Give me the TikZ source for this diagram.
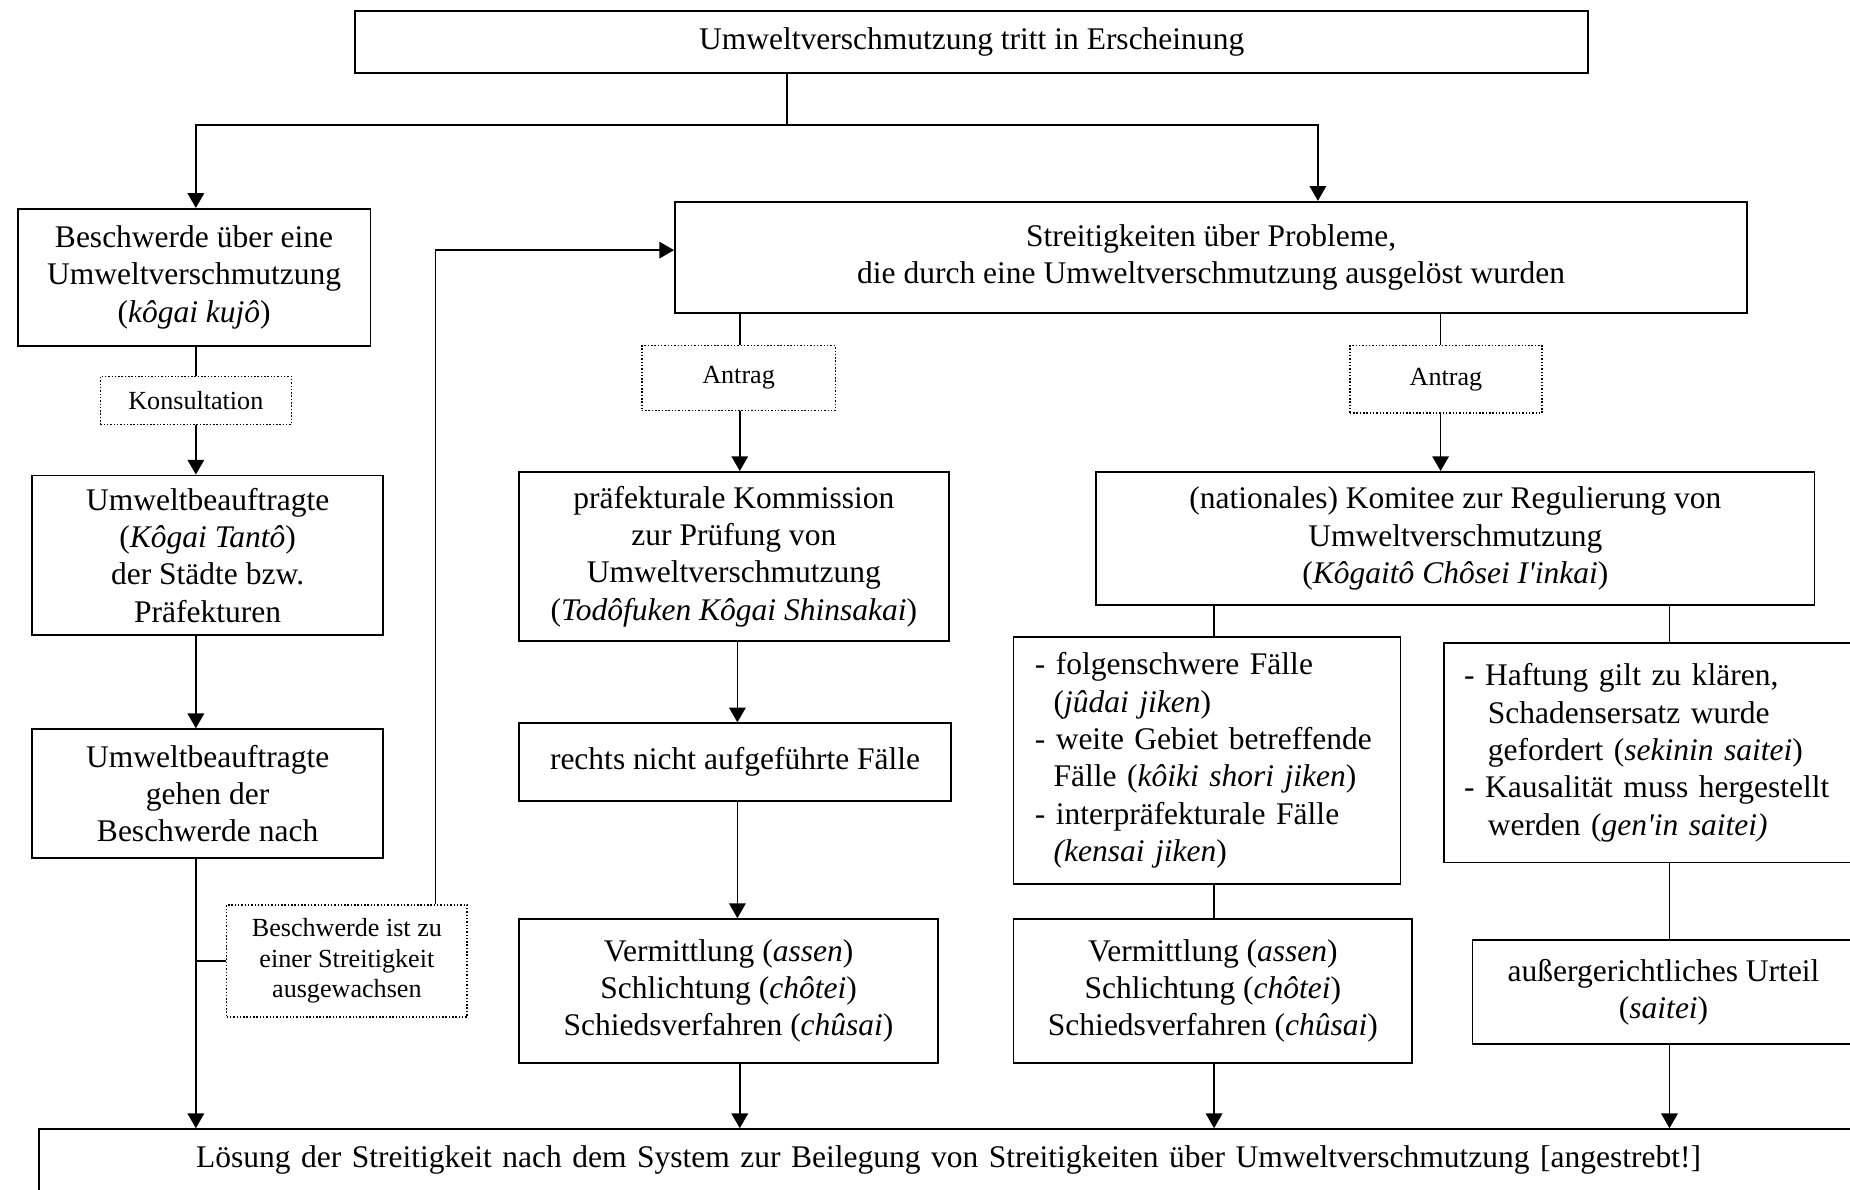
\documentclass[tikz,border=0pt]{standalone}
\usepackage{fontspec}
\setmainfont{Liberation Serif}
\usetikzlibrary{arrows.meta}

\tikzset{
	box/.style={draw, line width=.9pt, inner sep=0pt, align=center, font=\fontsize{15.2}{18}\selectfont},
	hinweis/.style={draw, line width=.7pt, dash pattern=on .7pt off .9pt, inner sep=0pt, align=center, font=\fontsize{12.6}{14.7}\selectfont},
	linie/.style={line width=.8pt},
	pfeil/.style={line width=.8pt, -{Triangle[length=.25cm, width=.28cm]}},
}

\begin{document}
\begin{tikzpicture}[x=.02cm, y=-.02cm]
	\useasboundingbox (0,0) rectangle (1568,1008);
	\clip (0,0) rectangle (1568,1008);

	% Spalten der Verbindungen
	\coordinate (spA) at (166,0);
	\coordinate (spB) at (627,0);
	\coordinate (spC) at (1029,0);
	\coordinate (spD) at (1221,0);
	\coordinate (spE) at (1415,0);

	\node (top) at (823.5,35.5) [box, minimum width=20.9cm, minimum height=1.06cm] {Umweltverschmutzung tritt in Erscheinung};

	\node (beschwerde) at (164.5,235) [box, minimum width=5.98cm, minimum height=2.32cm] {Beschwerde über eine\\Umweltverschmutzung\\(\textit{kôgai kujô})};
	\node (konsult) at (166,339.5) [hinweis, minimum width=3.24cm, minimum height=.82cm] {Konsultation};
	\node (beauftr) at (176,470.5) [box, minimum width=5.96cm, minimum height=2.7cm] {Umweltbeauftragte\\(\textit{Kôgai Tantô})\\der Städte bzw.\\Präfekturen};
	\node (nachgehen) at (176,672.5) [box, minimum width=5.96cm, minimum height=2.18cm] {Umweltbeauftragte\\gehen der\\Beschwerde nach};
	\node (ausgew) at (294,814.5) [hinweis, minimum width=4.08cm, minimum height=1.9cm] {Beschwerde ist zu\\einer Streitigkeit\\ausgewachsen};

	\node (streit) at (1026.5,218) [box, minimum width=18.18cm, minimum height=1.88cm] {Streitigkeiten über Probleme,\\die durch eine Umweltverschmutzung ausgelöst wurden};

	\node (antragL) at (626,320.5) [hinweis, minimum width=3.28cm, minimum height=1.1cm] {Antrag};
	\node (praef) at (622,471.5) [box, minimum width=7.28cm, minimum height=2.86cm] {präfekturale Kommission\\zur Prüfung von\\Umweltverschmutzung\\(\textit{Todôfuken Kôgai Shinsakai})};
	\node (rechts) at (623,646) [box, minimum width=7.32cm, minimum height=1.32cm] {rechts nicht aufgeführte Fälle};
	\node (vermL) at (617.5,840) [box, minimum width=7.1cm, minimum height=2.44cm] {Vermittlung (\textit{assen})\\Schlichtung (\textit{chôtei})\\Schiedsverfahren (\textit{chûsai})};

	\node (antragR) at (1225.5,321.5) [hinweis, minimum width=3.26cm, minimum height=1.14cm] {Antrag};
	\node (komitee) at (1233.5,456.5) [box, minimum width=12.18cm, minimum height=2.26cm] {(nationales) Komitee zur Regulierung von\\Umweltverschmutzung\\(\textit{Kôgaitô Chôsei I\textquotesingle inkai})};
	\node (folgen) at (1023,644.5) [box, align=left, inner xsep=.36cm, text width=5.84cm, minimum height=4.18cm] {- folgenschwere Fälle\\\hspace*{.6em}(\textit{jûdai jiken})\\- weite Gebiet betreffende\\\hspace*{.6em}Fälle (\textit{kôiki shori jiken})\\- interpräfekturale Fälle\\\hspace*{.6em}\textit{(kensai jiken})};
	\node (haftung) at (1398,638) [box, align=left, inner xsep=.34cm, text width=6.28cm, minimum height=3.72cm] {- Haftung gilt zu klären,\\\hspace*{.75em}Schadensersatz wurde\\\hspace*{.75em}gefordert (\textit{sekinin saitei})\\- Kausalität muss hergestellt\\\hspace*{.75em}werden (\textit{gen\textquotesingle in saitei)}};
	\node (vermR) at (1028,840) [box, minimum width=6.76cm, minimum height=2.44cm] {Vermittlung (\textit{assen})\\Schlichtung (\textit{chôtei})\\Schiedsverfahren (\textit{chûsai})};
	\node (urteil) at (1410,841) [box, minimum width=6.48cm, minimum height=1.76cm] {außergerichtliches Urteil\\(\textit{saitei})};

	\node (loesung) at (806.5,983) [box, align=left, inner xsep=2.66cm, text width=25.62cm, minimum height=1.04cm] {Lösung der Streitigkeit nach dem System zur Beilegung von Streitigkeiten über Umweltverschmutzung [angestrebt!]};

	% oben
	\coordinate (split) at (667,106);
	\coordinate (splitR) at (1117,106);
	\draw [linie] (split |- top.south) -- (split);
	\draw [pfeil] (split) -| (spA |- beschwerde.north);
	\draw [pfeil] (split) -- (splitR) -- (splitR |- streit.north);

	% links
	\draw [linie] (spA |- beschwerde.south) -- (spA |- konsult.north);
	\draw [pfeil] (spA |- konsult.south) -- (spA |- beauftr.north);
	\draw [pfeil] (spA |- beauftr.south) -- (spA |- nachgehen.north);
	\draw [pfeil] (spA |- nachgehen.south) -- (spA |- loesung.north);
	\draw [linie] (ausgew.west) -- (spA |- ausgew.west);
	\coordinate (knick) at (369,212);
	\draw [pfeil] (knick |- ausgew.north) -- (knick) -- (knick -| streit.west);

	% Mitte
	\draw [linie] (spB |- streit.south) -- (spB |- antragL.north);
	\draw [pfeil] (spB |- antragL.south) -- (spB |- praef.north);
	\draw [pfeil] (625,0 |- praef.south) -- (625,0 |- rechts.north);
	\draw [pfeil] (625,0 |- rechts.south) -- (625,0 |- vermL.north);
	\draw [pfeil] (spB |- vermL.south) -- (spB |- loesung.north);

	% rechts
	\draw [linie] (spD |- streit.south) -- (spD |- antragR.north);
	\draw [pfeil] (spD |- antragR.south) -- (spD |- komitee.north);
	\draw [linie] (spC |- komitee.south) -- (spC |- folgen.north);
	\draw [linie] (spC |- folgen.south) -- (spC |- vermR.north);
	\draw [pfeil] (spC |- vermR.south) -- (spC |- loesung.north);
	\draw [linie] (spE |- komitee.south) -- (spE |- haftung.north);
	\draw [linie] (spE |- haftung.south) -- (spE |- urteil.north);
	\draw [pfeil] (spE |- urteil.south) -- (spE |- loesung.north);

\end{tikzpicture}
\end{document}
